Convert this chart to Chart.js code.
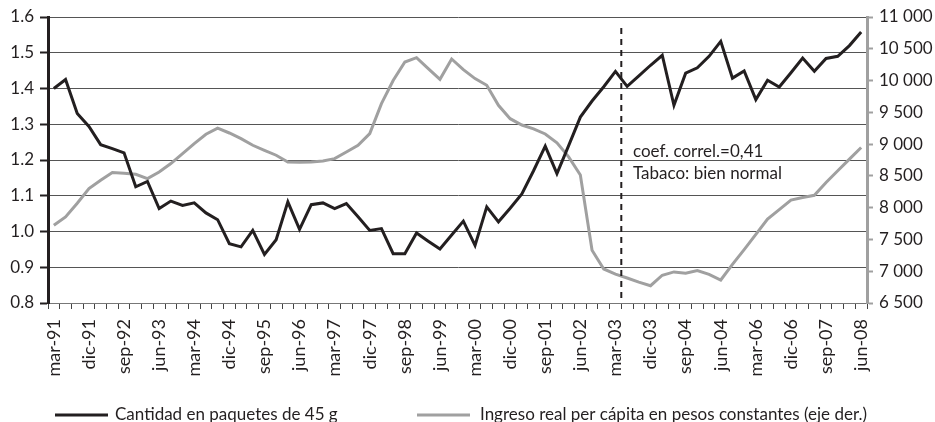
<!DOCTYPE html>
<html>
<head>
<meta charset="utf-8">
<script src="https://cdn.jsdelivr.net/npm/chart.js@4.4.0/dist/chart.umd.min.js"></script>
<style>
  html, body { margin: 0; padding: 0; background: #fff; }
</style>
</head>
<body>
<canvas id="chTabaco" width="935" height="422"></canvas>
<script>
/* tabaco: cantidad vs ingreso real */

// trimestres
var trimestres = [
  'mar-91','jun-91','sep-91','dic-91','mar-92','jun-92','sep-92','dic-92',
  'mar-93','jun-93','sep-93','dic-93','mar-94','jun-94','sep-94','dic-94',
  'mar-95','jun-95','sep-95','dic-95','mar-96','jun-96','sep-96','dic-96',
  'mar-97','jun-97','sep-97','dic-97','mar-98','jun-98','sep-98','dic-98',
  'mar-99','jun-99','sep-99','dic-99','mar-00','jun-00','sep-00','dic-00',
  'mar-01','jun-01','sep-01','dic-01','mar-02','jun-02','sep-02','dic-02',
  'mar-03','jun-03','sep-03','dic-03','mar-04','jun-04','sep-04','dic-04',
  'mar-05','jun-05','sep-05','dic-05','mar-06','jun-06','sep-06','dic-06',
  'mar-07','jun-07','sep-07','dic-07','mar-08','jun-08'
];

// etiquetas que se ven en el eje (una cada 3 trimestres, tal cual el original)
var etiquetasX = [
  'mar-91','dic-91','sep-92','jun-93','mar-94','dic-94','sep-95','jun-96',
  'mar-97','dic-97','sep-98','jun-99','mar-00','dic-00','sep-01','jun-02',
  'mar-03','dic-03','sep-04','jun-04','mar-06','dic-06','sep-07','jun-08'
];

// cantidad en paquetes de 45 g (eje izq.)
var cantidad = [
  1.400, 1.425, 1.330, 1.294, 1.243, 1.232, 1.220, 1.125, 1.140, 1.064,
  1.085, 1.073, 1.080, 1.052, 1.033, 0.966, 0.957, 1.003, 0.936, 0.977,
  1.083, 1.006, 1.075, 1.080, 1.064, 1.078, 1.041, 1.003, 1.008, 0.938,
  0.938, 0.996, 0.973, 0.951, 0.990, 1.029, 0.961, 1.069, 1.027, 1.065,
  1.105, 1.170, 1.239, 1.162, 1.240, 1.320, 1.365, 1.405, 1.448, 1.406,
  1.435, 1.465, 1.493, 1.353, 1.443, 1.458, 1.490, 1.532, 1.429, 1.449,
  1.369, 1.423, 1.404, 1.444, 1.485, 1.448, 1.484, 1.490, 1.520, 1.558
];

// ingreso real per capita en pesos constantes (eje der.)
var ingreso = [
  7723, 7854, 8070, 8300, 8431, 8552, 8540, 8526, 8458, 8562,
  8694, 8851, 9009, 9155, 9250, 9175, 9087, 8982, 8903, 8825,
  8719, 8714, 8719, 8735, 8772, 8877, 8982, 9166, 9637, 10000,
  10292, 10361, 10188, 10020, 10339, 10172, 10031, 9926, 9611, 9400,
  9300, 9240, 9160, 9020, 8800, 8515, 7330, 7035, 6955, 6893,
  6828, 6772, 6937, 6989, 6970, 7012, 6950, 6862, 7108, 7340,
  7580, 7820, 7970, 8120, 8160, 8195, 8397, 8580, 8764, 8946
];

var colorNegro = '#231f20';
var colorGris = '#a0a0a0';
var fuente = "Lato, 'Open Sans', sans-serif";

Chart.defaults.font.family = fuente;
Chart.defaults.font.size = 16;
Chart.defaults.color = colorNegro;

function miles(v) {
  return String(v).replace(/\B(?=(\d{3})+(?!\d))/g, ' ');
}

// linea punteada, texto y leyenda
var extras = {
  id: 'extras',
  afterDatasetsDraw: function (chart) {
    var ctx = chart.ctx;
    var xs = chart.scales.x;
    var area = chart.chartArea;
    var xCorte = (xs.getPixelForValue(48) + xs.getPixelForValue(49)) / 2;
    ctx.save();
    ctx.strokeStyle = colorNegro;
    ctx.lineWidth = 2;
    ctx.setLineDash([6, 5]);
    ctx.beginPath();
    ctx.moveTo(xCorte, 28);
    ctx.lineTo(xCorte, area.bottom);
    ctx.stroke();
    ctx.restore();
  },
  afterDraw: function (chart) {
    var ctx = chart.ctx;
    ctx.save();
    ctx.font = '17px ' + fuente;
    ctx.fillStyle = colorNegro;
    ctx.textBaseline = 'middle';
    ctx.fillText('coef. correl.=0,41', 633, 152);
    ctx.fillText('Tabaco: bien normal', 633, 174);

    // leyenda
    var yLeg = 415;
    ctx.lineWidth = 3;
    ctx.strokeStyle = colorNegro;
    ctx.beginPath(); ctx.moveTo(55, yLeg); ctx.lineTo(108, yLeg); ctx.stroke();
    ctx.fillText(chart.data.datasets[0].label, 115, yLeg);
    ctx.strokeStyle = colorGris;
    ctx.beginPath(); ctx.moveTo(417, yLeg); ctx.lineTo(470, yLeg); ctx.stroke();
    ctx.fillText(chart.data.datasets[1].label, 480, yLeg);
    ctx.restore();
  }
};

var chTabaco = document.getElementById('chTabaco');
new Chart(chTabaco, {
  type: 'line',
  data: {
    labels: trimestres,
    datasets: [
      {
        label: 'Cantidad en paquetes de 45 g',
        data: cantidad,
        yAxisID: 'y',
        borderColor: colorNegro,
        borderWidth: 3,
        pointRadius: 0,
        tension: 0
      },
      {
        label: 'Ingreso real per cápita en pesos constantes (eje der.)',
        data: ingreso,
        yAxisID: 'y1',
        borderColor: colorGris,
        borderWidth: 3,
        pointRadius: 0,
        tension: 0
      }
    ]
  },
  options: {
    responsive: false,
    animation: false,
    layout: { padding: { top: 17, left: 0, right: 0, bottom: 0 } },
    plugins: {
      legend: { display: false },
      tooltip: { enabled: false }
    },
    scales: {
      x: {
        offset: true,
        grid: { offset: true, drawOnChartArea: false, tickLength: 6, color: '#444', lineWidth: 1 },
        border: { color: '#777', width: 1 },
        ticks: {
          autoSkip: false,
          minRotation: 90,
          maxRotation: 90,
          padding: 10,
          font: { size: 18 },
          callback: function (v, i) { return i % 3 === 0 ? etiquetasX[i / 3] : ''; }
        },
        afterFit: function (s) { s.height = 119; }
      },
      y: {
        position: 'left',
        min: 0.8,
        max: 1.6,
        ticks: { stepSize: 0.1, padding: 6, font: { size: 17 }, callback: function (v) { return v.toFixed(1); } },
        grid: { color: '#555', lineWidth: 1, tickLength: 8, tickColor: colorNegro, tickWidth: 2 },
        border: { color: colorNegro, width: 3 },
        afterFit: function (s) { s.width = 48; }
      },
      y1: {
        position: 'right',
        min: 6500,
        max: 11000,
        ticks: { stepSize: 500, padding: 6, font: { size: 17 }, callback: function (v) { return miles(v); } },
        grid: { drawOnChartArea: false, tickLength: 6, tickColor: colorGris, tickWidth: 2 },
        border: { color: colorGris, width: 3 },
        afterFit: function (s) { s.width = 68; }
      }
    }
  },
  plugins: [extras]
});
</script>
</body>
</html>
